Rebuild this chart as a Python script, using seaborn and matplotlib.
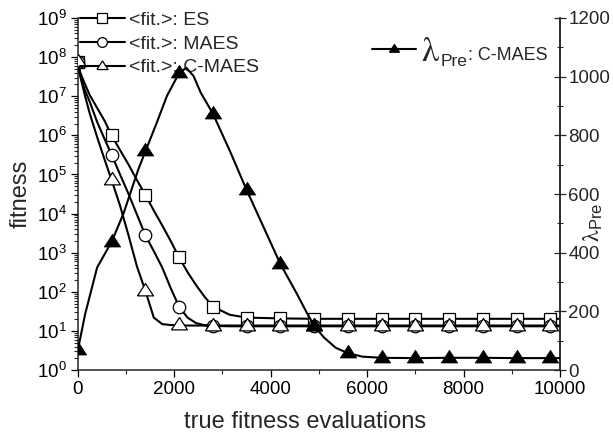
import matplotlib
matplotlib.use("Agg")
import numpy as np
import pandas as pd
import matplotlib.pyplot as plt
import seaborn as sns
from matplotlib.lines import Line2D
from matplotlib.ticker import LogLocator, MultipleLocator, NullFormatter, LogFormatterSciNotation

# ---- data -------------------------------------------------------------
evals = [0, 50, 150, 250, 400, 550, 700, 875, 1050, 1225, 1400, 1575, 1750,
         1925, 2100, 2275, 2450, 2625, 2800, 3150, 3500, 4200, 4900, 5600,
         6300, 7000, 7700, 8400, 9100, 9800, 10000]

fit_es = [7.5e7, 4e7, 2e7, 1.05e7, 5e6, 2.4e6, 1e6, 4.2e5, 1.8e5, 7.2e4, 3e4,
          1.2e4, 5e3, 2e3, 760, 320, 150, 76, 42, 26, 22, 21, 20.5, 20.5,
          20.5, 20.5, 20.5, 20.5, 20.5, 20.5, 20.5]

fit_maes = [7.5e7, 3.5e7, 1.4e7, 7e6, 2.2e6, 8.3e5, 3.2e5, 1e5, 3.2e4, 9.5e3,
            2.8e3, 1.1e3, 420, 125, 42, 22, 16, 14, 13.5, 13.2, 13.2, 13.2,
            13.2, 13.2, 13.2, 13.2, 13.2, 13.2, 13.2, 13.2, 13.2]

fit_cmaes = [7.5e7, 3.2e7, 1e7, 3.5e6, 9e5, 2.5e5, 7.2e4, 1.6e4, 2.8e3, 450,
             107, 22, 15, 14.2, 14, 13.8, 13.8, 13.8, 13.8, 13.8, 13.8, 13.8,
             13.8, 13.8, 13.8, 13.8, 13.8, 13.8, 13.8, 13.8, 13.8]

lam_evals = [0, 150, 400, 700, 950, 1250, 1400, 1632, 1850, 2100, 2250, 2400,
             2550, 2800, 3150, 3500, 3850, 4200, 4550, 4750, 4900, 5100, 5350,
             5600, 5900, 6300, 7000, 7700, 8400, 9100, 9800, 10000]
lam_pre = [68, 190, 350, 437, 535, 682, 745, 841, 935, 1012, 1030, 1002, 945,
           874, 748, 614, 488, 362, 258, 195, 152, 112, 76, 58, 46, 42, 41, 42,
           42, 41, 41, 41]

series_names = ["ES", "MAES", "C-MAES"]
legend_labels = ["<fit.>: ES", "<fit.>: MAES", "<fit.>: C-MAES"]
marker_every = 700

# ---- style ------------------------------------------------------------
sns.set_style("ticks")
plt.rcParams["font.family"] = ["Liberation Sans", "DejaVu Sans"]
plt.rcParams["mathtext.fontset"] = "stix"
plt.rcParams["axes.linewidth"] = 1.1

fit_df = pd.DataFrame({"evals": evals, "ES": fit_es, "MAES": fit_maes,
                       "C-MAES": fit_cmaes})
fit_long = fit_df.melt(id_vars="evals", var_name="algo", value_name="fitness")
lam_df = pd.DataFrame({"evals": lam_evals, "lam": lam_pre})

# slightly flattened triangle, closed outline
tri = [(-1, -0.55), (1, -0.55), (0, 1.0), (-1, -0.55)]
markers = {"ES": ("s", 74), "MAES": ("o", 81), "C-MAES": (tri, 132)}

fig = plt.figure(figsize=(6.13, 4.37), dpi=100)
ax = fig.add_axes([0.127, 0.153, 0.7865, 0.806])
ax2 = ax.twinx()

for i, name in enumerate(series_names):
    sub = fit_long[fit_long["algo"] == name]
    sns.lineplot(data=sub, x="evals", y="fitness", color="black", lw=1.5,
                 estimator=None, sort=False, ax=ax, zorder=2 + i)
    pts = sub[sub["evals"] % marker_every == 0]
    m, s = markers[name]
    sns.scatterplot(data=pts, x="evals", y="fitness", marker=m, s=s,
                    color="white", edgecolor="black", linewidth=0.9,
                    ax=ax, zorder=2.5 + i)

sns.lineplot(data=lam_df, x="evals", y="lam", color="black", lw=1.5,
             estimator=None, sort=False, ax=ax2, zorder=3)
lam_pts = lam_df[lam_df["evals"] % marker_every == 0]
sns.scatterplot(data=lam_pts, x="evals", y="lam", marker=tri, s=140,
                color="black", edgecolor="black", linewidth=0.5, ax=ax2,
                zorder=4)

# ---- axes -------------------------------------------------------------
ax.set_yscale("log")
ax.set_xlim(0, 10000)
ax.set_ylim(1, 1e9)
ax2.set_ylim(0, 1200)

ax.xaxis.set_major_locator(MultipleLocator(2000))
ax.xaxis.set_minor_locator(MultipleLocator(1000))
ax.yaxis.set_major_locator(LogLocator(base=10, numticks=12))
ax.yaxis.set_major_formatter(LogFormatterSciNotation())
ax.yaxis.set_minor_locator(LogLocator(base=10, subs=np.arange(2, 10), numticks=12))
ax.yaxis.set_minor_formatter(NullFormatter())
ax2.yaxis.set_major_locator(MultipleLocator(200))
ax2.yaxis.set_minor_locator(MultipleLocator(100))

ax.tick_params(axis="both", which="major", direction="out", length=5,
               width=0.9, labelsize=13.5, colors="black", pad=3)
ax.tick_params(axis="both", which="minor", direction="out", length=3,
               width=0.8)
ax.tick_params(axis="y", right=False)
ax2.tick_params(axis="y", which="major", direction="inout", length=8,
                width=0.9, labelsize=13.5, pad=2)
ax2.tick_params(axis="y", which="minor", direction="inout", length=5,
                width=0.8)

for a in (ax, ax2):
    a.spines["top"].set_visible(False)
ax2.spines["left"].set_visible(False)
ax2.spines["bottom"].set_visible(False)

ax.set_xlabel("true fitness evaluations", fontsize=17)
ax.xaxis.set_label_coords(0.472, -0.115)
ax.set_ylabel("fitness", fontsize=17)
ax.yaxis.set_label_coords(-0.095, 0.5)
ax2.set_ylabel(r"$\mathrm{\lambda}_{\mathregular{Pre}}$", fontsize=17,
               rotation=90)
ax2.yaxis.set_label_coords(1.045, 0.418)

# ---- legends ----------------------------------------------------------
handles = [
    Line2D([], [], color="black", lw=1.5, marker="s", ms=6.5,
           mfc="white", mec="black", mew=0.9),
    Line2D([], [], color="black", lw=1.5, marker="o", ms=7,
           mfc="white", mec="black", mew=0.9),
    Line2D([], [], color="black", lw=1.5, marker=tri, ms=8,
           mfc="white", mec="black", mew=0.9),
]
leg1 = ax.legend(handles, legend_labels, loc="upper left",
                 bbox_to_anchor=(0.004, 1.018), frameon=False, fontsize=14,
                 handlelength=2.3, handletextpad=0.25, labelspacing=0.31,
                 borderpad=0, borderaxespad=0)

lam_handle = Line2D([], [], color="black", lw=1.5, marker=tri, ms=7,
                    mfc="black", mec="black")
leg2 = ax2.legend([lam_handle], [r"$\mathrm{\lambda}$"], loc="center left",
                  bbox_to_anchor=(0.61, 0.905), frameon=False, fontsize=25,
                  handlelength=1.26, handletextpad=0.14, borderpad=0,
                  borderaxespad=0)
lam_txt = leg2.get_texts()[0]
pre = ax2.annotate("Pre", xy=(1, 0), xycoords=lam_txt, xytext=(1, 1),
                   textcoords="offset points", fontsize=12.5, va="baseline",
                   ha="left", zorder=10, annotation_clip=False)
ax2.annotate(": C-MAES", xy=(1, 0), xycoords=(pre, lam_txt),
             xytext=(0, 5.5), textcoords="offset points", fontsize=13,
             va="baseline", ha="left", zorder=11, annotation_clip=False)

fig.savefig("out.png", dpi=100)
